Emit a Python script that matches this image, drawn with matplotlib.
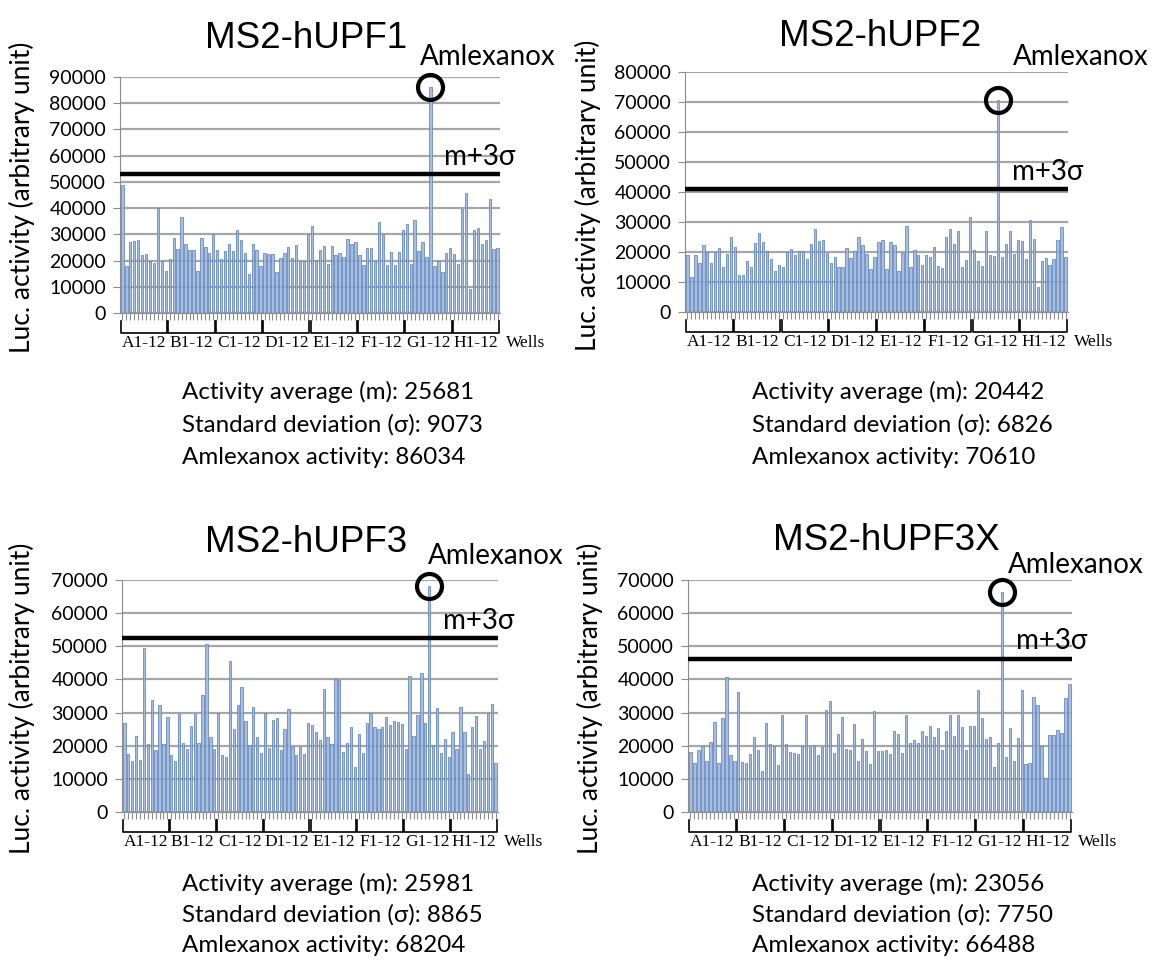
import numpy as np
import matplotlib
matplotlib.use('Agg')
import matplotlib.pyplot as plt

# well activities (A1..H12, 96 wells per construct)
titles = ['MS2-hUPF1', 'MS2-hUPF2', 'MS2-hUPF3', 'MS2-hUPF3X']
rows = ['A', 'B', 'C', 'D', 'E', 'F', 'G', 'H']
group_labels = [r + '1-12' for r in rows]

hupf1 = [
    49000, 17800, 27000, 27500, 28000, 22000, 22500, 20000, 19000, 40000, 20000, 16000,
    20500, 28500, 24500, 36500, 26500, 24000, 24000, 16000, 28500, 25000, 23000, 30000,
    24000, 20500, 23500, 26500, 23500, 31800, 28000, 23000, 14800, 26500, 24000, 17800,
    23000, 22500, 22500, 15800, 20800, 23000, 25000, 21000, 25800, 20000, 20000, 30000,
    33000, 20300, 24000, 25500, 18800, 25500, 22000, 23000, 21500, 28300, 26500, 27000,
    22300, 18200, 24800, 24800, 20000, 34700, 29600, 18300, 23200, 18200, 23200, 31500,
    34000, 18500, 35500, 23800, 27000, 21500, 86034, 18100, 20000, 15500, 23000, 24700,
    22500, 18700, 39500, 45800, 9000, 31500, 32400, 26300, 28000, 43500, 24500, 24700]

hupf2 = [
    19100, 11600, 19100, 16300, 22400, 19900, 16300, 19900, 21500, 15000, 19300, 24900,
    21700, 12200, 12200, 16900, 15000, 23000, 26300, 23300, 20200, 17800, 13800, 15600,
    15000, 19900, 21000, 19100, 20200, 20200, 17700, 22700, 27700, 23800, 24100, 19700,
    16500, 18500, 15000, 15000, 21500, 18000, 20200, 24900, 22400, 19300, 14300, 18200,
    23500, 24100, 14300, 23200, 22200, 13600, 19700, 28600, 15000, 20800, 19100, 15600,
    19100, 18500, 21700, 15200, 14700, 24900, 27700, 22700, 26900, 15000, 17500, 31700,
    20800, 16900, 15200, 26900, 19100, 18800, 70610, 18500, 22700, 26900, 19300, 24100,
    23800, 17700, 30800, 24300, 8300, 17100, 18000, 15600, 17800, 24100, 28200, 18200]

hupf3 = [
    26800, 17600, 15300, 22900, 15800, 49400, 20600, 33700, 18600, 32400, 20600, 28600,
    17300, 15400, 29600, 20800, 19100, 25800, 29600, 20800, 35400, 50800, 22600, 19100,
    29800, 17100, 16600, 45700, 25100, 32400, 37700, 27600, 20100, 31700, 22600, 17800,
    29800, 19400, 27900, 28300, 18600, 25100, 31200, 19600, 17300, 19600, 17600, 26900,
    26400, 24100, 21600, 37200, 22600, 20600, 40000, 39700, 18100, 20800, 25600, 13600,
    23600, 17800, 26900, 30000, 25600, 25100, 25600, 28600, 26100, 27600, 27100, 26600,
    19100, 40900, 22900, 29400, 42000, 26900, 68204, 20100, 31500, 17800, 22100, 16600,
    24100, 19100, 31700, 24100, 11600, 25600, 29100, 19100, 21400, 29800, 32500, 14800]

hupf3x = [
    18100, 14800, 18800, 19800, 15300, 21100, 27300, 14800, 28300, 40600, 17100, 15400,
    36300, 15100, 14800, 17600, 22600, 18800, 12300, 26800, 20600, 19900, 14100, 29300,
    20400, 18100, 17800, 17400, 19800, 29400, 19600, 20100, 17100, 19600, 30800, 33400,
    17800, 23600, 28600, 19100, 18600, 26600, 15300, 21900, 18400, 14600, 30400, 18400,
    18400, 18800, 17600, 24300, 23600, 17800, 29300, 20900, 21700, 20900, 24300, 22900,
    25800, 22600, 25300, 18800, 24300, 29400, 22900, 29400, 25600, 18600, 25800, 26000,
    36800, 28300, 22100, 22600, 13600, 20900, 66488, 16500, 25300, 15400, 22400, 36800,
    14600, 14800, 34600, 32300, 20000, 10200, 23300, 23100, 24600, 23800, 34500, 38500]

activities = [hupf1, hupf2, hupf3, hupf3x]
y_max = [90000, 80000, 70000, 70000]
averages = [25681, 20442, 25981, 23056]
deviations = [9073, 6826, 8865, 7750]
amlexanox = [86034, 70610, 68204, 66488]
peak_well = 78

# layout in pixels (figure is 1158 x 960 at dpi 100)
W, H = 1158, 960
axes_px = [(120, 77, 500, 313), (685, 72, 1068, 312),
           (122, 580, 498, 812), (688, 580, 1072, 812)]
title_px = [(306, 38), (880, 36), (306, 543), (886, 541)]
amlex_px = [(420, 57), (1013, 57), (428, 556), (1008, 565)]
ylabel_px = [(22, 197), (588, 195), (22, 698), (590, 698)]
stats_px = [(182, 392), (752, 392), (182, 884), (752, 884)]
line_gap = [32.5, 32.5, 30.5, 30.5]

calibri = ['Lato', 'DejaVu Sans']
bar_fill = '#9db8dd'
bar_edge = '#5f82b9'
grey = '#8c8c8c'

fig = plt.figure(figsize=(W / 100, H / 100), dpi=100)

for i in range(4):
    l, t, r, b = axes_px[i]
    ax = fig.add_axes([l / W, 1 - b / H, (r - l) / W, (b - t) / H])
    h_px = b - t
    vals = activities[i]
    x = np.arange(len(vals))

    ax.bar(x, vals, width=0.6, color=bar_fill, edgecolor=bar_edge, linewidth=0.6,
           alpha=0.9, zorder=2)
    ax.set_xlim(-0.6, 95.6)
    ax.set_ylim(0, y_max[i])
    ax.set_yticks(np.arange(0, y_max[i] + 1, 10000))
    ax.yaxis.grid(True, color='#a6a6a6', linewidth=1.6, zorder=1)
    ax.set_axisbelow(True)

    # m + 3 sigma threshold
    m3s = averages[i] + 3 * deviations[i]
    ax.plot([-0.5, 95.3], [m3s, m3s], color='black', linewidth=3.2, zorder=3)
    ax.annotate('m+3σ', xy=(81.5, m3s), xytext=(0, 3), textcoords='offset points',
                fontsize=20, family=calibri, va='bottom', ha='left', zorder=4)

    # circle on the Amlexanox well
    ax.plot(peak_well, amlexanox[i], 'o', ms=18, mfc='none', mec='black', mew=3,
            clip_on=False, zorder=4)

    for s in ['top', 'right']:
        ax.spines[s].set_visible(False)
    ax.spines['left'].set_color(grey)
    ax.spines['bottom'].set_color(grey)
    ax.set_xticks(x)
    ax.set_xticklabels([])
    ax.tick_params(axis='x', length=5, width=0.8, color=grey)
    ax.tick_params(axis='y', length=5, width=0.8, color=grey, labelsize=14, pad=5)
    for lab in ax.get_yticklabels():
        lab.set_family(calibri)

    # row brackets under the axis
    trans = ax.get_xaxis_transform()
    y_top = -8 / h_px
    y_bot = -20 / h_px
    for g in range(8):
        x0 = 12 * g - 0.35
        x1 = 12 * g + 11.35
        ax.plot([x0, x0, x1, x1], [y_top, y_bot, y_bot, y_top], color='black',
                linewidth=1.2, transform=trans, clip_on=False)
        ax.text(12 * g + 5.5, -30 / h_px, group_labels[g], transform=trans,
                ha='center', va='center', fontsize=12.5, family='Liberation Serif')
    ax.text(1 + 6 / (r - l), -30 / h_px, 'Wells', transform=ax.transAxes,
            ha='left', va='center', fontsize=12.5, family='Liberation Serif')

    # texts placed in figure pixels
    tx, ty = title_px[i]
    fig.text(tx / W, 1 - ty / H, titles[i], ha='center', va='center', fontsize=26.5,
             family='Liberation Sans')
    ax_, ay_ = amlex_px[i]
    fig.text(ax_ / W, 1 - ay_ / H, 'Amlexanox', ha='left', va='center', fontsize=20,
             family=calibri)
    yx, yy = ylabel_px[i]
    fig.text(yx / W, 1 - yy / H, 'Luc. activity (arbitrary unit)', rotation=90,
             ha='center', va='center', fontsize=19, family=calibri)
    sx, sy = stats_px[i]
    lines = ['Activity average (m): %d' % averages[i],
             'Standard deviation (σ): %d' % deviations[i],
             'Amlexanox activity: %d' % amlexanox[i]]
    for k, line in enumerate(lines):
        fig.text(sx / W, 1 - (sy + line_gap[i] * k) / H, line, ha='left', va='center',
                 fontsize=17.4, family=calibri)

fig.savefig('out.png', dpi=100)
